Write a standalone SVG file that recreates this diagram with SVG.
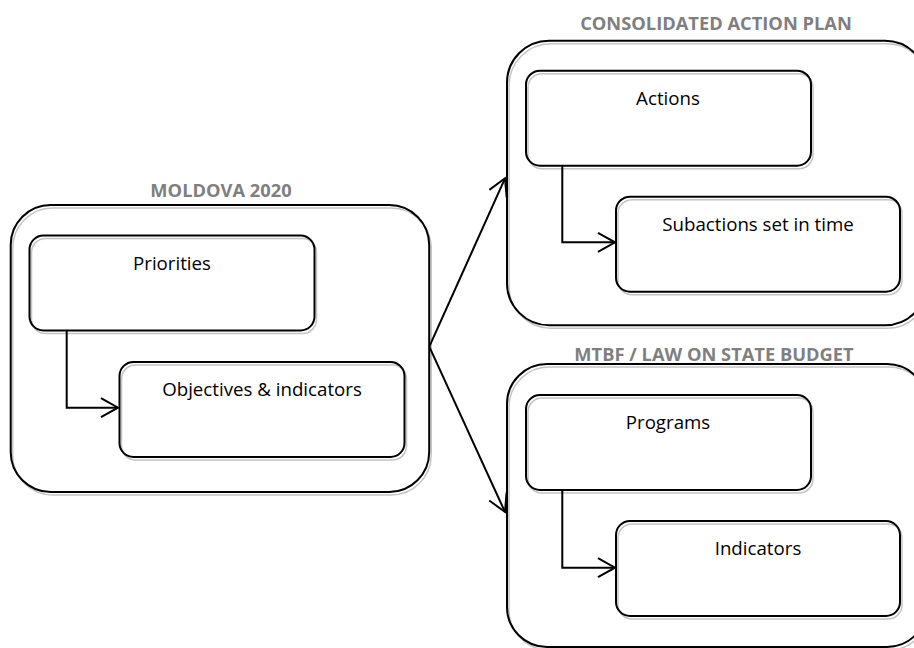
<svg xmlns="http://www.w3.org/2000/svg" width="914" height="648" viewBox="0 0 914 648">
  <style>
    .box { fill: none; stroke: #000; stroke-width: 2; }
    .shadow { fill: none; stroke: #c4c4c4; stroke-width: 1.5; }
    .title { font-family: "Open Sans", "Liberation Sans", sans-serif; font-weight: bold; font-size: 18.3px; fill: #7f7f7f; text-anchor: middle; }
    .label { font-family: "Open Sans", "Liberation Sans", sans-serif; font-size: 18.7px; fill: #000; text-anchor: middle; }
    .conn { fill: none; stroke: #000; stroke-width: 2; marker-end: url(#arrow); }
  </style>
  <defs>
    <marker id="arrow" markerUnits="userSpaceOnUse" markerWidth="24" markerHeight="24" refX="0" refY="0" viewBox="-20 -12 24 24" orient="auto" overflow="visible">
      <path d="M -17,-9.5 L 0,0 L -17,9.5" fill="none" stroke="#000" stroke-width="2"/>
    </marker>
  </defs>
  <rect width="914" height="648" fill="#fff"/>

  <g id="moldova-2020">
    <text class="title" x="221" y="197">MOLDOVA 2020</text>
    <rect class="shadow" x="12.7" y="208" width="418.5" height="287" rx="40"/>
    <rect class="box" x="10.7" y="205" width="418.5" height="287" rx="40"/>
  </g>
  <g id="priorities">
    <rect class="shadow" x="31.5" y="238.5" width="285" height="95" rx="14"/>
    <rect class="box" x="29.5" y="235.5" width="285" height="95" rx="14" fill="#fff"/>
    <text class="label" x="172" y="270">Priorities</text>
  </g>
  <g id="objectives">
    <rect class="shadow" x="121.5" y="365" width="285" height="95" rx="14"/>
    <rect class="box" x="119.5" y="362" width="285" height="95" rx="14"/>
    <text class="label" x="262" y="396">Objectives &amp; indicators</text>
  </g>

  <g id="consolidated-action-plan">
    <text class="title" x="716" y="30">CONSOLIDATED ACTION PLAN</text>
    <rect class="shadow" x="509" y="43.7" width="420" height="284.5" rx="42"/>
    <rect class="box" x="507" y="40.7" width="420" height="284.5" rx="42"/>
  </g>
  <g id="actions">
    <rect class="shadow" x="528" y="73.7" width="285" height="95" rx="14"/>
    <rect class="box" x="526" y="70.7" width="285" height="95" rx="14"/>
    <text class="label" x="668" y="105">Actions</text>
  </g>
  <g id="subactions">
    <rect class="shadow" x="618" y="199.7" width="284" height="95" rx="14"/>
    <rect class="box" x="616" y="196.7" width="284" height="95" rx="14"/>
    <text class="label" x="758" y="231">Subactions set in time</text>
  </g>

  <g id="mtbf-law-on-state-budget">
    <text class="title" x="714" y="361">MTBF / LAW ON STATE BUDGET</text>
    <rect class="shadow" x="509" y="367" width="420" height="283" rx="40"/>
    <rect class="box" x="507" y="364" width="420" height="283" rx="40"/>
  </g>
  <g id="programs">
    <rect class="shadow" x="528" y="398" width="285" height="95" rx="14"/>
    <rect class="box" x="526" y="395" width="285" height="95" rx="14"/>
    <text class="label" x="668" y="429">Programs</text>
  </g>
  <g id="indicators">
    <rect class="shadow" x="618" y="524" width="284" height="95" rx="14"/>
    <rect class="box" x="616" y="521" width="284" height="95" rx="14"/>
    <text class="label" x="758" y="555">Indicators</text>
  </g>

  <g id="connectors">
    <path class="conn" d="M 66.7 331 V 407.7 H 118"/>
    <path class="conn" d="M 562.3 166 V 242.3 H 615"/>
    <path class="conn" d="M 562.3 490 V 567.7 H 615"/>
    <path class="conn" d="M 429.3 346.7 L 505 178.3"/>
    <path class="conn" d="M 429.3 346.7 L 505 512"/>
  </g>
</svg>
